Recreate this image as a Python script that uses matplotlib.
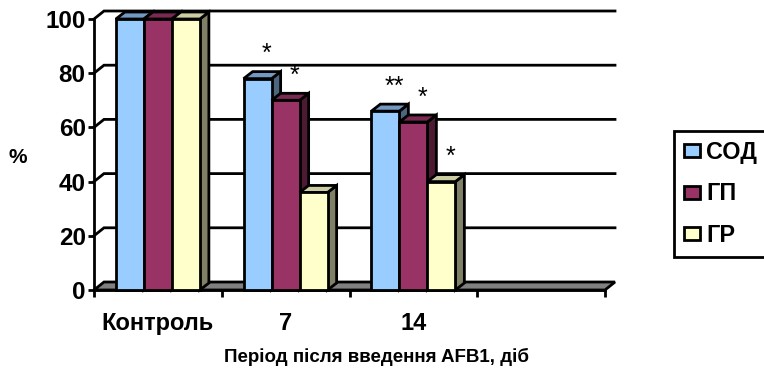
import matplotlib
matplotlib.use("Agg")
import matplotlib.pyplot as plt
from matplotlib.patches import Polygon, Patch

plt.rcParams['font.family'] = ['Liberation Sans', 'DejaVu Sans']
plt.rcParams['font.weight'] = 'bold'

# ---- data -------------------------------------------------------------
categories = ['Контроль', '7', '14']
series_names = ['СОД', 'ГП', 'ГР']
sod = [100, 78, 66]
gp = [100, 70, 62]
gr = [100, 36, 40]
marks_sod = ['', '*', '**']
marks_gp = ['', '*', '*']
marks_gr = ['', '', '*']
y_ticks = [0, 20, 40, 60, 80, 100]
n_slots = 4          # category slots on the floor (last one is empty)
xlabel = 'Період після введення AFB1, діб'
ylabel = '%'

series = [sod, gp, gr]
marks = [marks_sod, marks_gp, marks_gr]

# ---- style ------------------------------------------------------------
face_col = ['#99CCFF', '#993366', '#FFFFCC']
top_col = ['#7399C2', '#7A2952', '#CCCCA3']
side_col = ['#4D6680', '#4D1A33', '#808066']
FS_TICK = 17.5
FS_CAT = 17.0
FS_LEG = 16.8
FS_TITLE = 13.5
LW = 2.0

W, H = 764, 375
fig = plt.figure(figsize=(W / 100, H / 100), dpi=100)
x_left, x_right = 94, 605      # front floor edge, px
y_zero, y_top = 290, 19        # front 0 and 100 levels, px
ax = fig.add_axes([x_left / W, 1 - y_zero / H,
                   (x_right - x_left) / W, (y_zero - y_top) / H])
ax.set_xlim(0, n_slots)
ax.set_ylim(0, 100)

px_x = (x_right - x_left) / n_slots
px_y = (y_zero - y_top) / 100
wall_dx, wall_dy = 10 / px_x, 8 / px_y
bar_dx, bar_dy = 9 / px_x, 7 / px_y
bar_w = 28 / px_x

# back-wall gridlines with the short side-wall segment
for v in y_ticks[1:]:
    ax.plot([0, wall_dx, n_slots + wall_dx], [v, v + wall_dy, v + wall_dy],
            color='black', lw=LW, clip_on=False, zorder=1,
            solid_joinstyle='miter')

# floor slab
ax.add_patch(Polygon([(0, 0), (n_slots, 0), (n_slots + wall_dx, wall_dy),
                      (wall_dx, wall_dy)], closed=True, fc='#808080',
                     ec='black', lw=LW, clip_on=False, zorder=2))

# 3-D columns
z = 3
for i in range(len(categories)):
    for j, vals in enumerate(series):
        v = vals[i]
        xl = i + 0.5 - 1.5 * bar_w + j * bar_w
        xr = xl + bar_w
        front = [(xl, 0), (xr, 0), (xr, v), (xl, v)]
        top = [(xl, v), (xr, v), (xr + bar_dx, v + bar_dy), (xl + bar_dx, v + bar_dy)]
        side = [(xr, 0), (xr + bar_dx, bar_dy), (xr + bar_dx, v + bar_dy), (xr, v)]
        for poly, col in ((side, side_col[j]), (top, top_col[j]), (front, face_col[j])):
            ax.add_patch(Polygon(poly, closed=True, fc=col, ec='black', lw=LW,
                                 joinstyle='miter', clip_on=False, zorder=z))
            z += 0.01
        z += 0.1
        m = marks[j][i]
        if m:
            ax.annotate(m, xy=(xl + bar_w / 2 + bar_dx, v), xytext=(0, 12.5),
                        textcoords='offset points', ha='center', va='baseline',
                        fontsize=18, fontweight='normal', annotation_clip=False,
                        zorder=20)

# axes
for s in ('top', 'right'):
    ax.spines[s].set_visible(False)
ax.spines['left'].set_linewidth(LW)
ax.spines['bottom'].set_linewidth(LW)
ax.spines['left'].set_zorder(2.5)
ax.spines['bottom'].set_zorder(2.5)
ax.set_yticks(y_ticks)
ax.set_yticklabels([str(t) for t in y_ticks])
ax.tick_params(axis='y', length=4.5, width=LW, pad=1.5, labelsize=FS_TICK)
ax.set_xticks(range(n_slots + 1))
ax.set_xticklabels([])
ax.tick_params(axis='x', which='major', length=5, width=LW)
ax.set_xticks([i + 0.5 for i in range(len(categories))], minor=True)
ax.set_xticklabels(categories, minor=True)
ax.tick_params(axis='x', which='minor', length=0, pad=16, labelsize=FS_CAT)
ax.patch.set_visible(False)

fig.text(376 / W, 1 - 357 / H, xlabel, ha='center', va='center', fontsize=FS_TITLE)
fig.text(18 / W, 1 - 157 / H, ylabel, ha='center', va='center', fontsize=15)

handles = [Patch(fc=c, ec='black', lw=LW) for c in face_col]
leg = fig.legend(handles, series_names, loc='upper left',
                 bbox_to_anchor=(674 / W, 1 - 131 / H), frameon=True,
                 fancybox=False, edgecolor='black', framealpha=1, fontsize=FS_LEG,
                 handlelength=0.7, handleheight=0.5, handletextpad=0.25,
                 borderpad=0.42, labelspacing=0.8, borderaxespad=0)
leg.get_frame().set_linewidth(LW)

fig.savefig('out.png', dpi=100)
